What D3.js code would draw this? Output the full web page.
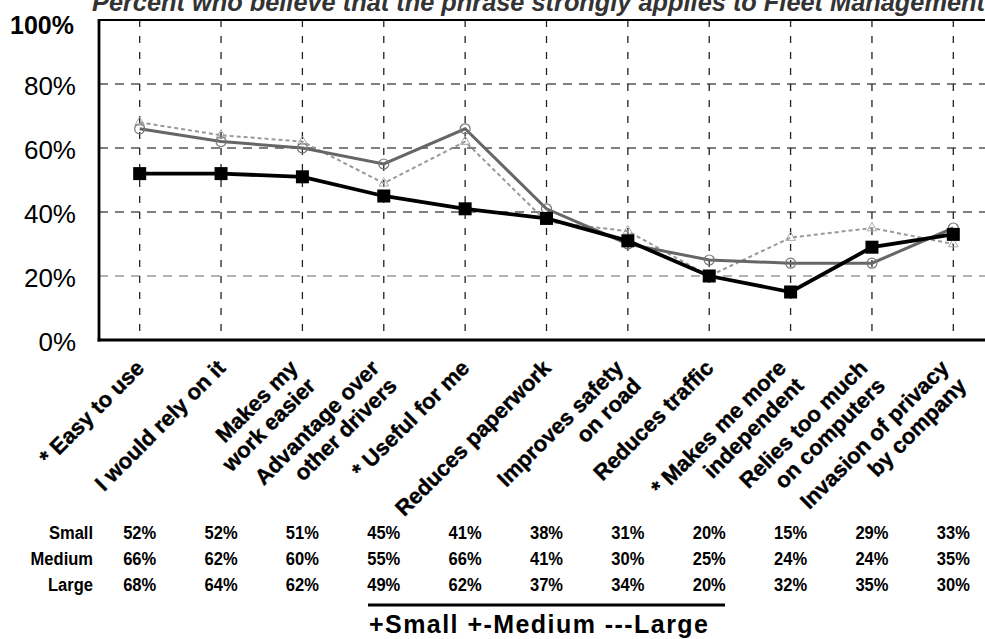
<!DOCTYPE html>
<html><head><meta charset="utf-8">
<script src="https://cdn.jsdelivr.net/npm/d3@7"></script>
<style>html,body{margin:0;padding:0;background:#fff;overflow:hidden}svg{display:block}</style>
</head><body>
<svg id="c" width="985" height="639"></svg>
<script>
const categories = [
  ["* Easy to use"],
  ["I would rely on it"],
  ["Makes my", "work easier"],
  ["Advantage over", "other drivers"],
  ["* Useful for me"],
  ["Reduces paperwork"],
  ["Improves safety", "on road"],
  ["Reduces traffic"],
  ["* Makes me more", "independent"],
  ["Relies too much", "on computers"],
  ["Invasion of privacy", "by company"]
];
const seriesNames = ["Small", "Medium", "Large"];
const small  = [52, 52, 51, 45, 41, 38, 31, 20, 15, 29, 33];
const medium = [66, 62, 60, 55, 66, 41, 30, 25, 24, 24, 35];
const large  = [68, 64, 62, 49, 62, 37, 34, 20, 32, 35, 30];
const yTicks = [0, 20, 40, 60, 80, 100];
const title = "Percent who believe that the phrase strongly applies to Fleet Management";
const legendText = "+Small +-Medium ---Large";

const svg = d3.select("#c");
const keys = categories.map((c, i) => i);
const x = d3.scalePoint().domain(keys).range([99, 994]).padding(0.5);
const y = d3.scaleLinear().domain([0, 100]).range([340, 20]);
const F = "Arial, 'Liberation Sans', sans-serif";

// title (partly above the top edge, as in the original)
svg.append("text").attr("x", 92).attr("y", 11)
  .attr("font-family", F).attr("font-size", 25).attr("font-weight", "bold")
  .attr("font-style", "italic").attr("fill", "#333")
  .attr("textLength", 893).attr("lengthAdjust", "spacingAndGlyphs")
  .text(title);

// horizontal grid
svg.append("g").selectAll("line").data(yTicks.filter(d => d > 0 && d < 100)).join("line")
  .attr("x1", 99).attr("x2", 985).attr("y1", d => y(d)).attr("y2", d => y(d))
  .attr("stroke", d => d === 20 ? "#999" : "#555").attr("stroke-width", 1.3)
  .attr("stroke-dasharray", "9,7");

// vertical grid
svg.append("g").selectAll("line").data(keys).join("line")
  .attr("x1", d => x(d)).attr("x2", d => x(d)).attr("y1", y(100)).attr("y2", y(0))
  .attr("stroke", "#222").attr("stroke-width", 1.3).attr("stroke-dasharray", "7,9");

// y axis
const yAxis = d3.axisLeft(y).tickValues(yTicks).tickSize(0).tickPadding(23)
  .tickFormat(d => d + "%");
const ga = svg.append("g").attr("transform", "translate(99,0)").call(yAxis);
ga.select(".domain").remove();
ga.selectAll("text").attr("font-family", F).attr("font-size", 26).attr("fill", "#000")
  .attr("dy", "0.4em");
ga.selectAll("text").filter(d => d === 100).attr("font-weight", "bold").attr("font-size", 25)
  .attr("dx", -2).attr("dy", "0.55em");

// frame lines
svg.append("line").attr("x1", 99).attr("x2", 985).attr("y1", y(100)).attr("y2", y(100))
  .attr("stroke", "#000").attr("stroke-width", 2.2);
svg.append("line").attr("x1", 99).attr("x2", 99).attr("y1", y(100) - 1).attr("y2", y(0) + 1.5)
  .attr("stroke", "#000").attr("stroke-width", 2.8);
const xAxis = d3.axisBottom(x).tickSize(0).tickFormat("");
const gx = svg.append("g").attr("transform", `translate(0,${y(0)})`).call(xAxis);
gx.select(".domain").attr("d", "M97.6,0H985").attr("stroke", "#000").attr("stroke-width", 3);

// category labels
const LH = 25, FS = 22;
const lab = svg.append("g").selectAll("g").data(keys).join("g")
  .attr("transform", d => {
    const n = categories[d].length;
    const H = n * LH;
    return `translate(${x(d) + 0},${355 + (H / 2) * 0.7071}) rotate(-45)`;
  });
lab.each(function(d) {
  const lines = categories[d];
  const n = lines.length;
  d3.select(this).selectAll("text").data(lines).join("text")
    .attr("x", 0).attr("y", (t, i) => (i - (n - 1) / 2) * LH)
    .attr("dy", "0.36em")
    .attr("text-anchor", "end")
    .attr("font-family", F).attr("font-size", FS).attr("font-weight", "bold")
    .attr("stroke", "#000").attr("stroke-width", 0.4)
    .text(t => t);
});

// lines
const line = d3.line().x((v, i) => x(i)).y(v => y(v));
svg.append("path").datum(large).attr("d", line).attr("fill", "none")
  .attr("stroke", "#999").attr("stroke-width", 2).attr("stroke-dasharray", "4,3");
svg.append("path").datum(medium).attr("d", line).attr("fill", "none")
  .attr("stroke", "#666").attr("stroke-width", 3);
svg.append("g").selectAll("path").data(large).join("path")
  .attr("d", d3.symbol(d3.symbolTriangle, 40))
  .attr("transform", (v, i) => `translate(${x(i)},${y(v)})`)
  .attr("fill", "none").attr("stroke", "#aaa").attr("stroke-width", 1);
svg.append("g").selectAll("circle").data(medium).join("circle")
  .attr("cx", (v, i) => x(i)).attr("cy", v => y(v)).attr("r", 5)
  .attr("fill", "none").attr("stroke", "#777").attr("stroke-width", 1.2);
svg.append("path").datum(small).attr("d", line).attr("fill", "none")
  .attr("stroke", "#000").attr("stroke-width", 3.8);
svg.append("g").selectAll("rect").data(small).join("rect")
  .attr("x", (v, i) => x(i) - 6.5).attr("y", v => y(v) - 6.5)
  .attr("width", 13).attr("height", 13).attr("fill", "#000");

// table
const rows = [small, medium, large];
const rowY = [532, 558, 584];
const tb = svg.append("g");
rows.forEach((vals, r) => {
  tb.append("g").attr("transform", `translate(93,${rowY[r]}) scale(0.87,1)`)
    .append("text").attr("text-anchor", "end").attr("dy", "0.36em")
    .attr("font-family", F).attr("font-size", 19).attr("font-weight", "bold")
    .text(seriesNames[r]);
  tb.selectAll(null).data(vals).join("g")
    .attr("transform", (v, i) => `translate(${x(i)},${rowY[r]}) scale(0.87,1)`)
    .append("text").attr("text-anchor", "middle").attr("dy", "0.36em")
    .attr("font-family", F).attr("font-size", 19).attr("font-weight", "bold")
    .text(v => v + "%");
});

// legend
svg.append("line").attr("x1", 368).attr("x2", 725).attr("y1", 605).attr("y2", 605)
  .attr("stroke", "#000").attr("stroke-width", 3);
svg.append("text").attr("x", 369).attr("y", 633)
  .attr("font-family", F).attr("font-size", 25).attr("font-weight", "bold")
  .attr("textLength", 339).attr("lengthAdjust", "spacing")
  .text(legendText);
</script>
</body></html>
